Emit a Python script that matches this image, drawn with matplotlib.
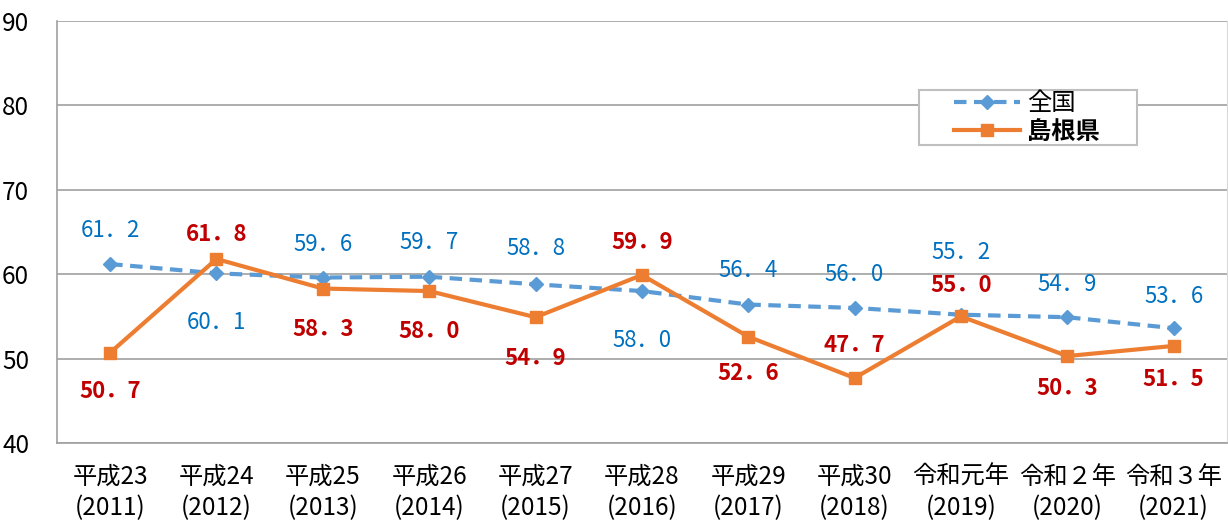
import numpy as np
import matplotlib.pyplot as plt
from matplotlib.patches import Rectangle

plt.rcParams['font.family'] = ['Noto Sans CJK JP', 'DejaVu Sans']

# data
years = ["平成23\n(2011)", "平成24\n(2012)", "平成25\n(2013)", "平成26\n(2014)",
         "平成27\n(2015)", "平成28\n(2016)", "平成29\n(2017)", "平成30\n(2018)",
         "令和元年\n(2019)", "令和２年\n(2020)", "令和３年\n(2021)"]
zenkoku = [61.2, 60.1, 59.6, 59.7, 58.8, 58.0, 56.4, 56.0, 55.2, 54.9, 53.6]
shimane = [50.7, 61.8, 58.3, 58.0, 54.9, 59.9, 52.6, 47.7, 55.0, 50.3, 51.5]
# label offsets in pixels (positive = above)
zen_off = [34, -49, 33, 34, 36, -49, 34, 33, 62, 33, 32]
shi_off = [-39, 24, -41, -40, -41, 33, -37, 32, 31, -32, -34]

fig = plt.figure(figsize=(12.28, 5.24), dpi=100)
ax = fig.add_axes([0.0464, 0.1546, 0.9526, 0.8054])

x = np.arange(len(years))
ax.plot(x, zenkoku, color="#5B9BD5", lw=3, ls=(0, (3, 1.8)), marker="D", ms=7,
        label="全国", zorder=3)
ax.plot(x, shimane, color="#ED7D31", lw=3, marker="s", ms=9,
        label="島根県", zorder=4)

for i in range(len(x)):
    t = f"{zenkoku[i]:.1f}".replace(".", "．")
    ax.annotate(t, (x[i], zenkoku[i]), xytext=(0, zen_off[i]),
                textcoords="offset pixels", ha="center", va="center",
                color="#0070C0", fontsize=16)
    t = f"{shimane[i]:.1f}".replace(".", "．")
    ax.annotate(t, (x[i], shimane[i]), xytext=(0, shi_off[i]),
                textcoords="offset pixels", ha="center", va="center",
                color="#C00000", fontsize=16, fontweight="bold")

ax.set_xlim(-0.5, len(x) - 0.5)
ax.set_ylim(40, 90)
ax.set_yticks([40, 50, 60, 70, 80, 90])
ax.set_xticks(x)
ax.set_xticklabels(years, fontsize=17.5, linespacing=1.25)
ax.tick_params(axis="y", labelsize=17.5, length=0, pad=20)
ax.tick_params(axis="x", length=0, pad=15)
ax.grid(axis="y", color="#A0A0A0", lw=1.2)
for s in ["left", "bottom"]:
    ax.spines[s].set_color("#A0A0A0")
    ax.spines[s].set_linewidth(1.2)
ax.spines["top"].set_visible(False)
ax.spines["right"].set_color("#D9D9D9")

# legend box drawn separately for wider side padding
ax.add_patch(Rectangle((0.737, 0.706), 0.186, 0.130, transform=ax.transAxes,
                       facecolor="white", edgecolor="#BFBFBF", lw=1.5, zorder=5))
leg = ax.legend(loc="upper left", bbox_to_anchor=(0.767, 0.836), fontsize=17.5,
                frameon=False, handlelength=2.7, borderpad=0, labelspacing=0.15,
                handletextpad=0.3, borderaxespad=0)
leg.set_zorder(6)
leg.get_texts()[1].set_fontweight("bold")

plt.savefig("out.png", dpi=100)
